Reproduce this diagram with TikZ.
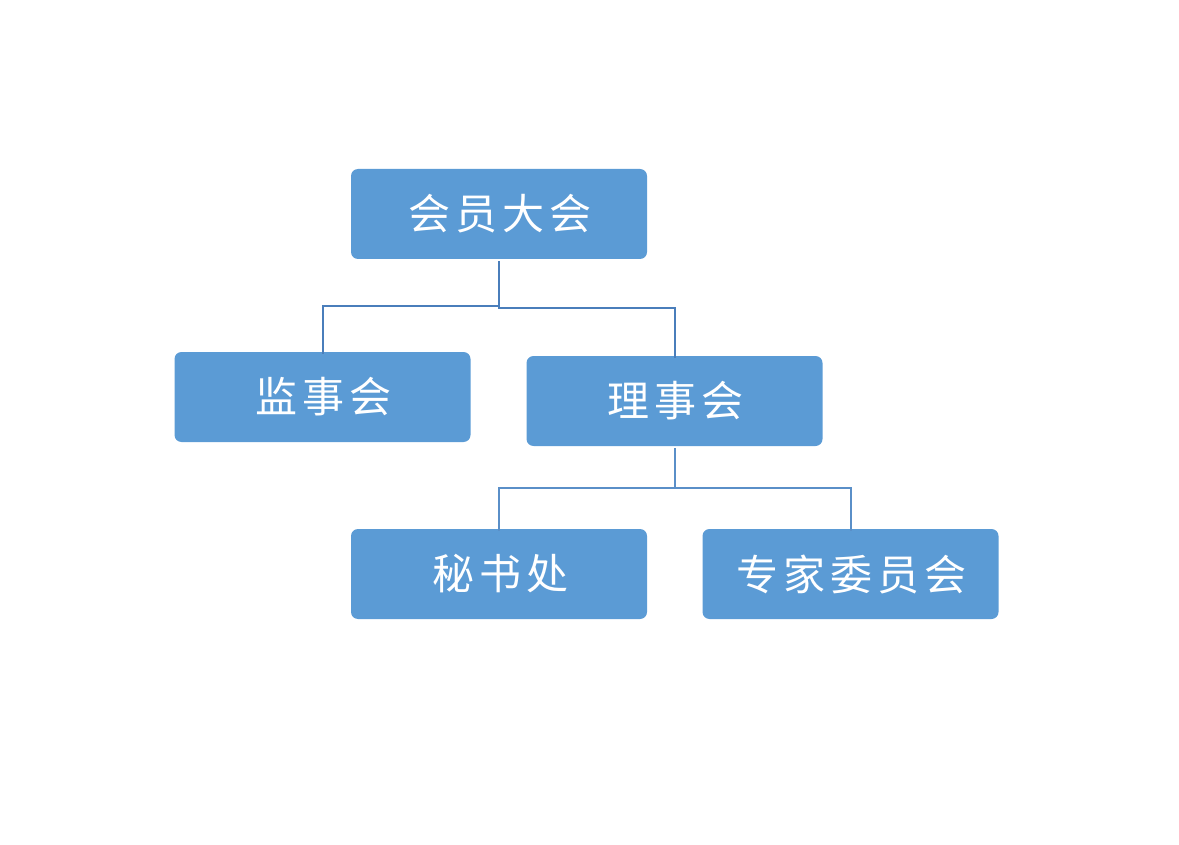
\documentclass[tikz,border=0pt]{standalone}
\usepackage{fontspec}
\newfontfamily\cjk[LetterSpace=12]{Noto Sans CJK SC}
\begin{document}
\begin{tikzpicture}[x=1pt,y=-1pt,
  box/.style={fill=boxblue, rounded corners=7pt, minimum width=296pt, minimum height=90pt, inner sep=0pt, text=white, font=\cjk\fontsize{42}{44}\selectfont},
  link/.style={draw=linkblue, line width=2pt},
  link2/.style={draw=linkblue2, line width=2pt}]
\definecolor{boxblue}{HTML}{5B9BD5}
\definecolor{linkblue}{HTML}{4A7EBB}
\definecolor{linkblue2}{HTML}{5A8FC8}
\useasboundingbox (0,0) rectangle (1179,845);
\node[box] (hy) at (499,214) {\kern2.5pt 会员大会};
\node[box] (js) at (322.5,397) {\kern2.5pt 监事会};
\node[box] (ls) at (674.5,401) {\kern2.5pt 理事会};
\node[box] (ms) at (499,574) {\kern2.5pt 秘书处};
\node[box] (zj) at (850.5,574) {\kern2.5pt 专家委员会};
\coordinate (a) at (499,306);
\coordinate (b) at (499,308);
\coordinate (c) at (674.5,488);
\draw[link] ([yshift=-2pt]hy.south) -- (b) -- (b -| ls.north) -- ([yshift=-2pt]ls.north);
\draw[link] (a) -- (a -| js.north) -- ([yshift=-2pt]js.north);
\draw[link2] ([yshift=-2pt]ls.south) -- (c);
\draw[link2] ([yshift=-2pt]ms.north) -- (c -| ms.north) -- (c -| zj.north) -- ([yshift=-2pt]zj.north);
\end{tikzpicture}
\end{document}
